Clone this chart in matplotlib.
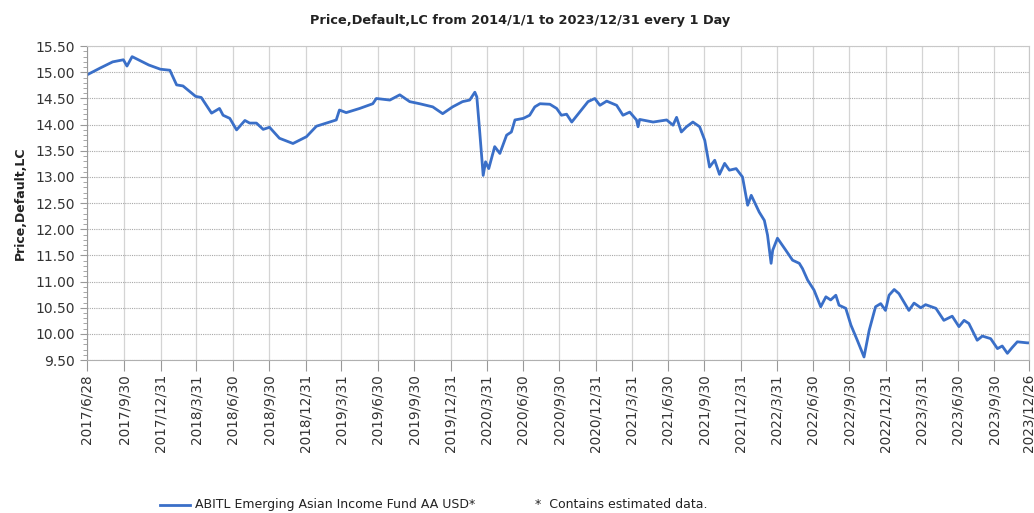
import numpy as np
import pandas as pd
import matplotlib
matplotlib.use("Agg")
import matplotlib.pyplot as plt
from matplotlib.ticker import MultipleLocator, FixedLocator

# price
dates = [
    "2017-06-28", "2017-07-31", "2017-09-01", "2017-09-28", "2017-10-07", "2017-10-20",
    "2017-11-10", "2017-12-01", "2017-12-30", "2018-01-23", "2018-02-09", "2018-02-25",
    "2018-03-29", "2018-04-12", "2018-05-08", "2018-05-28", "2018-06-06", "2018-06-23",
    "2018-07-10", "2018-07-31", "2018-08-12", "2018-08-29", "2018-09-15", "2018-10-01",
    "2018-10-26", "2018-11-29", "2019-01-02", "2019-01-27", "2019-02-21", "2019-03-18",
    "2019-03-26", "2019-04-12", "2019-05-16", "2019-06-18", "2019-06-27", "2019-07-31",
    "2019-08-25", "2019-09-19", "2019-10-14", "2019-11-16", "2019-12-11", "2020-01-05",
    "2020-01-30", "2020-02-17", "2020-03-01", "2020-03-06", "2020-03-13", "2020-03-22",
    "2020-03-28", "2020-04-05", "2020-04-20", "2020-05-03", "2020-05-20", "2020-06-01",
    "2020-06-10", "2020-07-01", "2020-07-17", "2020-07-30", "2020-08-12", "2020-09-06",
    "2020-09-23", "2020-10-05", "2020-10-18", "2020-10-31", "2020-11-20", "2020-12-11",
    "2020-12-28", "2021-01-10", "2021-01-27", "2021-02-21", "2021-03-09", "2021-03-26",
    "2021-04-12", "2021-04-16", "2021-04-20", "2021-05-24", "2021-06-27", "2021-07-13",
    "2021-07-22", "2021-08-03", "2021-08-16", "2021-09-01", "2021-09-18", "2021-10-01",
    "2021-10-13", "2021-10-26", "2021-11-07", "2021-11-20", "2021-12-02", "2021-12-19",
    "2022-01-04", "2022-01-17", "2022-01-26", "2022-02-15", "2022-02-28", "2022-03-08",
    "2022-03-17", "2022-03-21", "2022-04-02", "2022-04-23", "2022-05-10", "2022-05-27",
    "2022-06-04", "2022-06-17", "2022-07-03", "2022-07-20", "2022-08-02", "2022-08-14",
    "2022-08-27", "2022-09-04", "2022-09-21", "2022-10-04", "2022-10-20", "2022-11-06",
    "2022-11-19", "2022-12-05", "2022-12-18", "2022-12-30", "2023-01-08", "2023-01-21",
    "2023-02-02", "2023-02-27", "2023-03-12", "2023-03-29", "2023-04-10", "2023-05-06",
    "2023-05-26", "2023-06-16", "2023-07-03", "2023-07-16", "2023-07-28", "2023-08-18",
    "2023-08-31", "2023-09-21", "2023-10-08", "2023-10-20", "2023-11-02", "2023-11-14",
    "2023-11-27", "2023-12-22", "2023-12-26",
]
prices = [
    14.95, 15.08, 15.20, 15.24, 15.12, 15.30,
    15.22, 15.14, 15.06, 15.04, 14.76, 14.74,
    14.54, 14.52, 14.22, 14.31, 14.18, 14.12,
    13.90, 14.08, 14.03, 14.03, 13.91, 13.95,
    13.74, 13.64, 13.77, 13.97, 14.03, 14.09,
    14.28, 14.23, 14.31, 14.40, 14.50, 14.47,
    14.57, 14.44, 14.40, 14.34, 14.21, 14.34,
    14.44, 14.47, 14.62, 14.53, 13.89, 13.03,
    13.29, 13.16, 13.58, 13.45, 13.80, 13.86,
    14.09, 14.12, 14.18, 14.34, 14.40, 14.39,
    14.31, 14.18, 14.20, 14.05, 14.24, 14.44,
    14.50, 14.37, 14.45, 14.37, 14.18, 14.24,
    14.09, 13.96, 14.10, 14.05, 14.09, 13.99,
    14.14, 13.86, 13.96, 14.05, 13.96, 13.70,
    13.19, 13.32, 13.05, 13.26, 13.13, 13.16,
    13.00, 12.46, 12.65, 12.33, 12.17, 11.89,
    11.35, 11.60, 11.83, 11.60, 11.41, 11.35,
    11.25, 11.03, 10.84, 10.52, 10.71, 10.65,
    10.74, 10.55, 10.49, 10.17, 9.88, 9.56,
    10.07, 10.52, 10.58, 10.45, 10.74, 10.85,
    10.77, 10.45, 10.59, 10.50, 10.56, 10.49,
    10.26, 10.34, 10.14, 10.26, 10.20, 9.88,
    9.96, 9.91, 9.72, 9.77, 9.63, 9.74,
    9.85, 9.83, 9.83,
]

tick_dates = [
    "2017-06-28", "2017-09-30", "2017-12-31", "2018-03-31", "2018-06-30", "2018-09-30",
    "2018-12-31", "2019-03-31", "2019-06-30", "2019-09-30", "2019-12-31", "2020-03-31",
    "2020-06-30", "2020-09-30", "2020-12-31", "2021-03-31", "2021-06-30", "2021-09-30",
    "2021-12-31", "2022-03-31", "2022-06-30", "2022-09-30", "2022-12-31", "2023-03-31",
    "2023-06-30", "2023-09-30", "2023-12-26",
]

x = pd.to_datetime(dates)
ticks = pd.to_datetime(tick_dates)
tick_labels = [f"{t.year}/{t.month}/{t.day}" for t in ticks]
y_ticks = np.arange(9.5, 15.51, 0.5)

fig = plt.figure(figsize=(10.34, 5.13), dpi=100)
ax = fig.add_axes([0.084, 0.298, 0.911, 0.612])

ax.plot(x, prices, color="#3a6fc8", linewidth=2.0)

ax.set_xlim(ticks[0], ticks[-1])
ax.set_ylim(9.5, 15.5)

ax.xaxis.set_major_locator(FixedLocator(matplotlib.dates.date2num(ticks)))
ax.set_xticklabels(tick_labels, rotation=90, fontsize=9.8, color="#333333")
ax.yaxis.set_minor_locator(MultipleLocator(0.1))
ax.set_yticks(y_ticks)
ax.set_yticklabels([f"{v:.2f}" for v in y_ticks], fontsize=10, color="#333333")

ax.tick_params(axis="x", which="major", length=8, color="#999999", direction="out", pad=2)
ax.tick_params(axis="y", which="major", length=5, color="#999999", direction="out")
ax.tick_params(axis="y", which="minor", length=3, color="#999999", direction="out")

# horizontal dotted, vertical solid light
ax.grid(True, axis="y", which="major", color="#a8a8a8", linestyle=(0, (1, 1)), linewidth=0.8)
ax.grid(True, axis="x", which="major", color="#d4d4d4", linestyle="-", linewidth=0.9)
for s in ax.spines.values():
    s.set_color("#c8c8c8")
ax.spines["left"].set_color("#999999")
ax.spines["bottom"].set_color("#b0b0b0")

ax.set_ylabel("Price,Default,LC", fontsize=9, fontweight="bold", color="#222222", labelpad=6)
fig.text(0.503, 0.961, "Price,Default,LC from 2014/1/1 to 2023/12/31 every 1 Day",
         ha="center", va="center", fontsize=9.3, fontweight="bold", color="#222222")

# legend at bottom
fig.add_artist(plt.Line2D([0.155, 0.184], [0.016, 0.016], color="#3a6fc8", linewidth=2))
fig.text(0.189, 0.016, "ABITL Emerging Asian Income Fund AA USD*", ha="left", va="center",
         fontsize=9, color="#222222")
fig.text(0.517, 0.016, "*  Contains estimated data.", ha="left", va="center",
         fontsize=9, color="#222222")

fig.savefig("out.png", dpi=100)
